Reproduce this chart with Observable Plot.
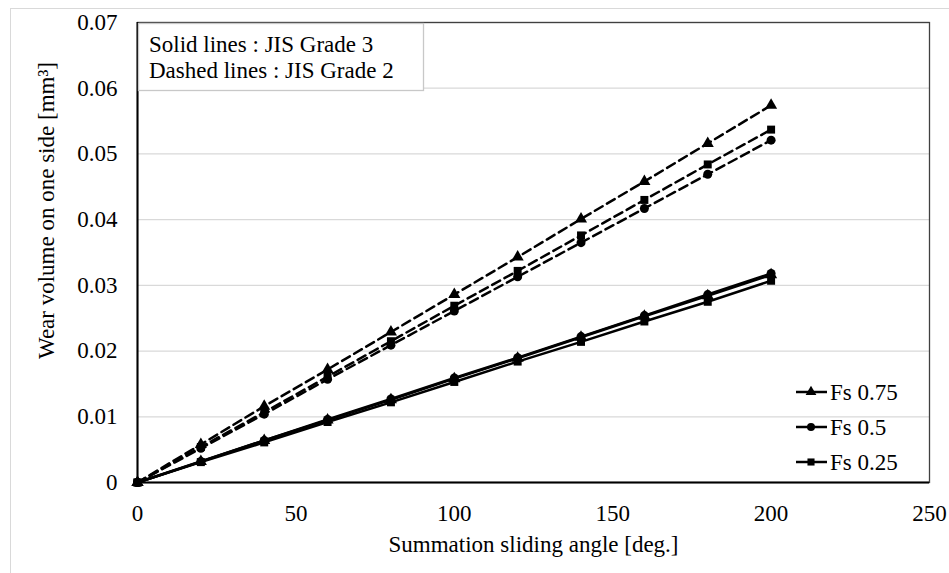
<!DOCTYPE html>
<html><head><meta charset="utf-8">
<script src="https://cdn.jsdelivr.net/npm/d3@7"></script>
<script src="https://cdn.jsdelivr.net/npm/@observablehq/plot@0.6"></script>
<style>
body{margin:0;background:#fff;}
#wrap{position:relative;width:949px;height:573px;overflow:hidden;font-family:"Liberation Serif","Times New Roman",serif;background:#fff;}
#outer{position:absolute;left:10px;top:8px;width:1000px;height:1000px;border:1px solid #d9d9d9;}
#wrap svg{position:absolute;left:0;top:0;}
</style>
</head><body>
<div id="wrap"><div id="outer"></div></div>
<script>
// ---- data ----
const angles = [0, 20, 40, 60, 80, 100, 120, 140, 160, 180, 200];
const seriesNames = ["Fs 0.75", "Fs 0.5", "Fs 0.25"];
const seriesSymbols = ["triangle", "circle", "square"];
const grades = ["JIS Grade 3", "JIS Grade 2"];
// JIS Grade 3 (solid lines)
const g3_fs075 = [0, 0.0032, 0.0064, 0.0095, 0.0126, 0.0158, 0.0189, 0.0221, 0.0253, 0.0284, 0.0316];
const g3_fs050 = [0, 0.0032, 0.0064, 0.0096, 0.0127, 0.0159, 0.0190, 0.0222, 0.0254, 0.0286, 0.0318];
const g3_fs025 = [0, 0.0031, 0.0061, 0.0092, 0.0122, 0.0153, 0.0184, 0.0214, 0.0245, 0.0275, 0.0307];
// JIS Grade 2 (dashed lines)
const g2_fs075 = [0, 0.0058, 0.0116, 0.0172, 0.0229, 0.0286, 0.0343, 0.0401, 0.0458, 0.0516, 0.0574];
const g2_fs050 = [0, 0.0052, 0.0104, 0.0157, 0.0209, 0.0261, 0.0313, 0.0365, 0.0417, 0.0469, 0.0521];
const g2_fs025 = [0, 0.0054, 0.0107, 0.0161, 0.0215, 0.0269, 0.0322, 0.0376, 0.0430, 0.0484, 0.0537];
const xTicks = [0, 50, 100, 150, 200, 250];
const yTicks = [0, 0.01, 0.02, 0.03, 0.04, 0.05, 0.06, 0.07];
const xTitle = "Summation sliding angle [deg.]";
const yTitle = "Wear volume on one side [mm³]";
const noteLines = ["Solid lines : JIS Grade 3", "Dashed lines : JIS Grade 2"];

const table = [
  [grades[0], seriesNames[0], g3_fs075], [grades[0], seriesNames[1], g3_fs050], [grades[0], seriesNames[2], g3_fs025],
  [grades[1], seriesNames[0], g2_fs075], [grades[1], seriesNames[1], g2_fs050], [grades[1], seriesNames[2], g2_fs025]
];
const rows = table.flatMap(([grade, series, vals]) =>
  vals.map((v, i) => ({angle: angles[i], value: v, grade, series, key: grade + "|" + series})));
const solid = rows.filter(d => d.grade === grades[0]);
const dashed = rows.filter(d => d.grade === grades[1]);

const FS = 23;
const FONT = '"Liberation Serif", "Times New Roman", serif';
const chart = Plot.plot({
  width: 949, height: 573,
  marginLeft: 137, marginRight: 20, marginTop: 22, marginBottom: 91,
  style: {fontFamily: FONT, fontSize: FS + "px", color: "#000", background: "transparent", overflow: "visible"},
  x: {domain: [0, 250], ticks: xTicks, tickSize: 0, tickPadding: 22, label: null},
  y: {domain: [0, 0.07], ticks: yTicks, tickSize: 0, tickPadding: 20, label: null, tickFormat: d => d === 0 ? "0" : d.toFixed(2)},
  symbol: {domain: seriesNames, range: seriesSymbols},
  marks: [
    Plot.ruleY(yTicks.filter(d => d > 0), {stroke: "#d9d9d9", strokeWidth: 1.3}),
    Plot.frame({stroke: "#404040", strokeWidth: 1.3}),
    Plot.ruleX([0], {stroke: "#000", strokeWidth: 2}),
    Plot.ruleY([0], {stroke: "#000", strokeWidth: 2}),
    Plot.line(dashed, {x: "angle", y: "value", z: "key", stroke: "#000", strokeWidth: 2.5, strokeDasharray: "9,5"}),
    Plot.line(solid, {x: "angle", y: "value", z: "key", stroke: "#000", strokeWidth: 2.5}),
    Plot.dot(rows, {x: "angle", y: "value", symbol: "series", fill: "#000", stroke: null, r: 4.5}),
    Plot.text([xTitle], {text: d => d, frameAnchor: "bottom", dy: 62, textAnchor: "middle", lineAnchor: "middle", fontSize: FS}),
    Plot.text([yTitle], {text: d => d, frameAnchor: "left", dx: -91, dy: -42, rotate: -90, textAnchor: "middle", lineAnchor: "middle", fontSize: FS})
  ]
});
const wrap = document.getElementById("wrap");
wrap.appendChild(chart);

// ---- legends overlay ----
const ov = d3.select(wrap).append("svg").attr("width", 949).attr("height", 573)
  .style("font-family", FONT).style("font-size", FS + "px");
// note box (top-left)
const note = ov.append("g");
note.append("rect").attr("x", 138.5).attr("y", 23.5).attr("width", 285).attr("height", 67)
  .attr("fill", "#fff").attr("stroke", "#c8c8c8").attr("stroke-width", 1.3);
note.selectAll("text").data(noteLines).join("text")
  .attr("x", 149).attr("y", (d, i) => 52 + i * 26).text(d => d);
// series legend (bottom-right)
const symMap = {triangle: d3.symbolTriangle, circle: d3.symbolCircle, square: d3.symbolSquare};
const lg = ov.append("g");
seriesNames.forEach((name, i) => {
  const cy = 392 + i * 35;
  const g = lg.append("g");
  g.append("line").attr("x1", 796).attr("x2", 827).attr("y1", cy).attr("y2", cy).attr("stroke", "#000").attr("stroke-width", 2.5);
  g.append("path").attr("transform", `translate(811,${cy})`).attr("d", d3.symbol(symMap[seriesSymbols[i]], Math.PI * 4 * 4)());
  g.append("text").attr("x", 830).attr("y", cy + 8).text(name);
});
</script>
</body></html>
